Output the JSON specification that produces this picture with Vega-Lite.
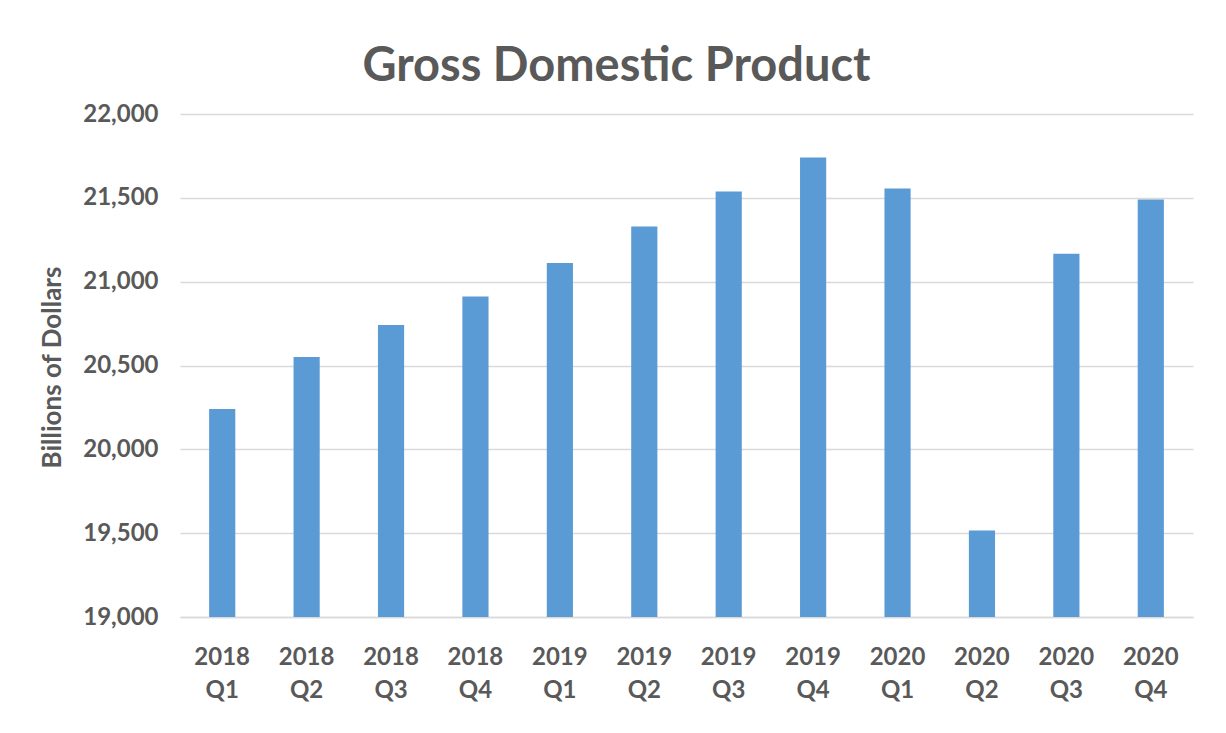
{
  "$schema": "https://vega.github.io/schema/vega-lite/v6.json",
  "autosize": "none",
  "width": 1013,
  "height": 503,
  "padding": {"left": 180, "top": 114, "right": 33, "bottom": 116},
  "background": "white",
  "title": {
    "text": "Gross Domestic Product",
    "anchor": "middle",
    "dx": -70,
    "offset": 11,
    "font": "Lato",
    "fontSize": 47,
    "fontWeight": "bold",
    "color": "#595959"
  },
  "data": {
    "values": [
      {"quarter": "2018 Q1", "gdp": 20240},
      {"quarter": "2018 Q2", "gdp": 20550},
      {"quarter": "2018 Q3", "gdp": 20742},
      {"quarter": "2018 Q4", "gdp": 20911},
      {"quarter": "2019 Q1", "gdp": 21111},
      {"quarter": "2019 Q2", "gdp": 21329},
      {"quarter": "2019 Q3", "gdp": 21538},
      {"quarter": "2019 Q4", "gdp": 21740},
      {"quarter": "2020 Q1", "gdp": 21556},
      {"quarter": "2020 Q2", "gdp": 19516},
      {"quarter": "2020 Q3", "gdp": 21167},
      {"quarter": "2020 Q4", "gdp": 21490}
    ]
  },
  "mark": {"type": "bar", "color": "#5b9bd5", "clip": true},
  "encoding": {
    "x": {
      "field": "quarter",
      "type": "nominal",
      "sort": null,
      "scale": {"paddingInner": 0.69, "paddingOuter": 0.345},
      "axis": {
        "title": null,
        "labelAngle": 0,
        "labelExpr": "split(datum.label, ' ')",
        "labelFont": "Lato",
        "labelFontSize": 24,
        "labelFontWeight": "bold",
        "labelColor": "#595959",
        "labelLineHeight": 33,
        "labelPadding": 28,
        "labelBaseline": "top",
        "ticks": false,
        "domainColor": "#d9d9d9",
        "domainWidth": 1.5
      }
    },
    "y": {
      "field": "gdp",
      "type": "quantitative",
      "scale": {"domain": [19000, 22000], "nice": false, "zero": false},
      "axis": {
        "values": [19000, 19500, 20000, 20500, 21000, 21500, 22000],
        "format": ",.0f",
        "title": "Billions of Dollars",
        "titleFont": "Lato",
        "titleFontSize": 26,
        "titleFontWeight": "bold",
        "titleColor": "#595959",
        "titleX": -128,
        "titleY": 253,
        "titleAngle": -90,
        "titleAlign": "center",
        "titleBaseline": "middle",
        "labelFont": "Lato",
        "labelFontSize": 24,
        "labelFontWeight": "bold",
        "labelColor": "#595959",
        "labelPadding": 22,
        "ticks": false,
        "domain": false,
        "gridColor": "#d9d9d9",
        "gridWidth": 1.5
      }
    }
  },
  "config": {"view": {"stroke": null}}
}
